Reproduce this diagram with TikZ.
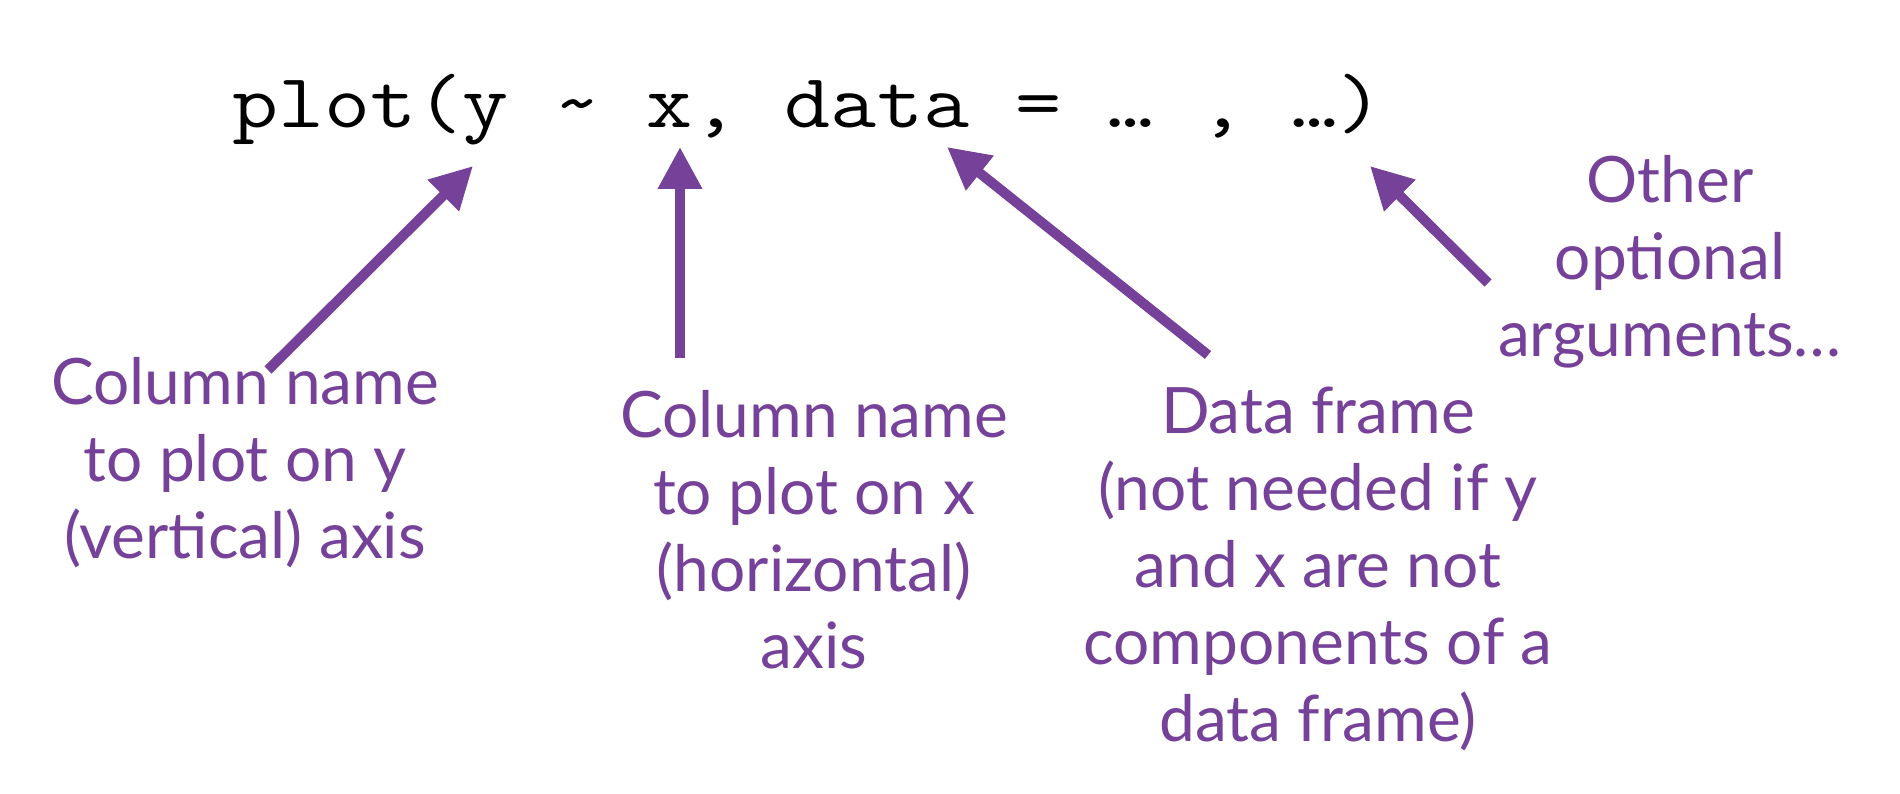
\documentclass[tikz,border=0pt]{standalone}
\usepackage{fontspec}
\usepackage{graphicx}
\newfontfamily\labelfont{Lato}
\usetikzlibrary{arrows.meta}
\definecolor{argpurple}{RGB}{118,65,153}
\tikzset{
  codetext/.style={anchor=base west, inner sep=0pt, font=\ttfamily\fontsize{76.7}{80}\selectfont},
  lbl/.style={anchor=base, inner sep=0pt, align=center, text=argpurple, font=\labelfont\fontsize{64}{77}\selectfont},
  pointer/.style={draw=argpurple, line width=10pt, -{Triangle[length=42pt,width=42pt]},
    preaction={draw=white, line width=14pt}}
}
\begin{document}
\begin{tikzpicture}[x=1pt,y=-1pt]
\useasboundingbox (0,0) rectangle (1900,794);
\node[codetext] (code) at (232,128) {\scalebox{1.166}[1]{\frenchspacing plot(y \char`\~{} x, data = … , …)}};

\node[lbl] (lblY) at (245,558) {Column name\\to plot on y\\(vertical) axis};
\node[lbl] (lblX) at (814,668) {Column name\\to plot on x\\(horizontal)\\axis};
\node[lbl] (lblData) at (1318,741) {Data frame\\(not needed if y\\and x are not\\components of a\\data frame)};
\node[lbl] (lblOther) at (1670,356) {Other\\optional\\arguments…};

\coordinate (sY) at (268,370);  \coordinate (tY) at (473,166);
\coordinate (sX) at (680,358);  \coordinate (tX) at (680,147);
\coordinate (sD) at (1208,355); \coordinate (tD) at (947,147);
\coordinate (sO) at (1488,283); \coordinate (tO) at (1370,166);

\draw[pointer] (sY) -- (tY);
\draw[pointer] (sX) -- (tX);
\draw[pointer] (sD) -- (tD);
\draw[pointer] (sO) -- (tO);
\end{tikzpicture}
\end{document}
